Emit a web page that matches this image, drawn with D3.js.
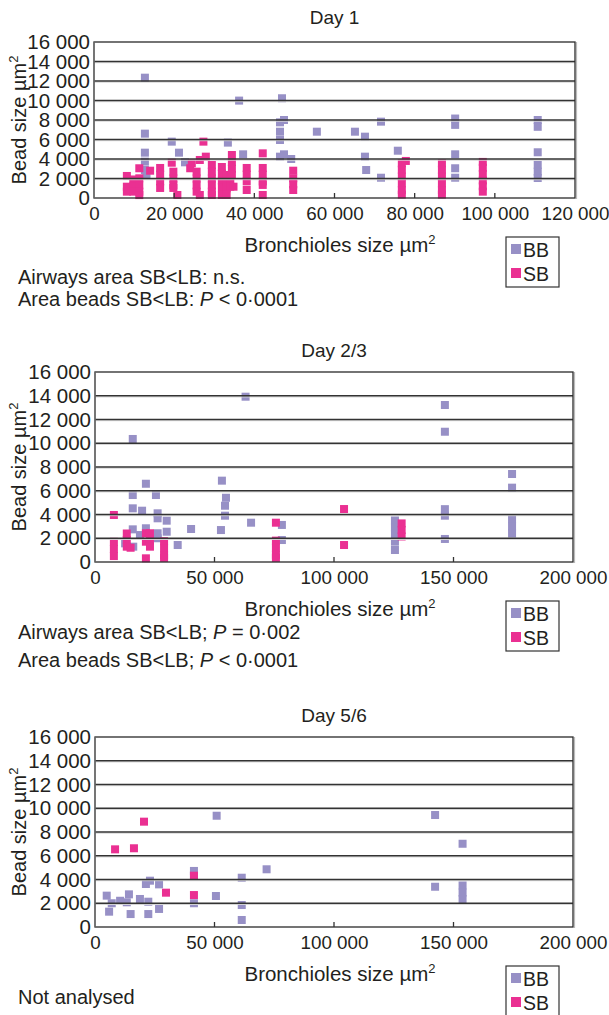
<!DOCTYPE html>
<html><head><meta charset="utf-8">
<script src="https://cdnjs.cloudflare.com/ajax/libs/d3/7.8.5/d3.min.js"></script>
<style>
body{margin:0;background:#fff;}
text{font-family:"Liberation Sans",Arial,Helvetica,sans-serif;fill:#231f20;}
</style></head><body>
<svg id="c" width="609" height="1015"></svg>
<script>
// ---------- DATA ----------
const panelTitles = ["Day 1", "Day 2/3", "Day 5/6"];
const xMaxes = [120000, 200000, 200000];
const xTicks1 = [0, 20000, 40000, 60000, 80000, 100000, 120000];
const xTicks23 = [0, 50000, 100000, 150000, 200000];
const yTicks = [0, 2000, 4000, 6000, 8000, 10000, 12000, 14000, 16000];
const seriesNames = ["BB", "SB"];

// Day 1 [bronchiole size, bead size]
const day1BB = [[12700,12340],[36200,9990],[12700,6600],[19400,5780],[12700,4650],[21200,4650],[33400,5680],[37200,4480],[12700,3730],[22700,3660],[12700,2870],[13100,2360],
[46900,10230],[47400,8000],[46400,7760],[46400,6800],[46400,5950],[55600,6800],[65100,6800],[67600,6290],[71600,7830],[46400,4240],[47400,4480],[49200,4000],[67600,4240],[67900,2870],[71600,2080],[75800,4850],
[90100,8150],[90100,7500],[90100,4480],[90100,3050],[90100,2080],[110700,8000],[110700,7300],[110700,4690],[110700,3400],[110700,2700],[110700,2050]];
const day1SB = [[8200,2260],[8200,1160],[8200,650],[9800,1900],[9800,1200],[9800,650],[11300,3050],[11300,2020],[11300,1300],[11300,650],[11300,300],
[14000,2800],[16500,3080],[16500,2400],[16500,1700],[16500,1030],[19400,3620],[19800,2700],[19800,2000],[19800,1300],[19800,1030],[20800,310],
[24000,3050],[24400,3560],[26400,3900],[26400,310],[25600,2700],[25600,2000],[25600,1300],[25600,650],[27300,5780],[27900,4240],
[29400,3390],[29400,2700],[29400,2000],[29400,1300],[29400,650],[29400,310],[31900,3180],[31900,2500],[31900,1800],[31900,1100],[31900,310],
[33100,2360],[33100,1700],[33100,1000],[33100,310],[34400,4410],[34400,3700],[34400,3000],[34400,2360],[34000,1900],[34000,1160],[34800,1160],
[38100,3080],[38100,2400],[38100,1700],[38100,820],[42100,4580],[42100,3080],[42100,2400],[42100,1700],[42100,1340],[42100,310],
[49700,2800],[49700,2020],[49700,1400],[49700,820],[76800,3560],[76800,2900],[76800,2200],[76800,1500],[76800,800],[76800,350],[77800,3800],
[86800,3560],[86800,2900],[86800,2200],[86800,1500],[86800,800],[86800,350],[97000,3700],[97000,3100],[97000,2450],[97000,1800],[97000,1200],[97000,650]];

// Day 2/3
const day23BB = [[63000,13920],[15800,10360],[21300,6590],[15800,5640],[25500,5640],[53100,6850],[54800,5410],[54400,4740],[54400,3900],[15800,4520],[19700,4320],[26200,4100],[26200,3680],[30000,3480],[15800,2750],[21300,2840],[30000,2550],[40200,2780],[52700,2690],[65300,3310],[34600,1430],[18800,2270],[26200,2420],[26200,2000],[12600,1570],[16000,1290],
[78200,3120],[78200,1850],[125500,3500],[125500,2900],[125500,2350],[125500,1710],[125500,1010],[146400,13220],[146400,10970],[146400,4450],[146400,3900],[146400,1940],[174500,7410],[174500,6260],[174500,3600],[174500,3000],[174500,2400]];
const day23SB = [[7900,3960],[7900,1700],[7900,1100],[7900,500],[13300,2400],[13300,1850],[13300,1290],[14900,1200],[21300,2420],[21300,1710],[23000,2420],[23000,1800],[23000,1290],[21300,310],[28900,1750],[28900,1150],[28900,550],[28900,350],
[75700,3310],[75700,1800],[75700,1200],[75700,600],[75700,350],[104200,4460],[104200,1430],[128300,3250],[128300,2700],[128300,2150]];

// Day 5/6
const day56BB = [[4900,2640],[7000,2000],[5900,1290],[10500,2210],[13300,2080],[14200,2750],[14900,1090],[18800,2360],[22300,2130],[22300,1090],[21300,3620],[23000,3900],[26800,3590],[26800,1520],[41400,4720],[41400,4350],[41400,2000],[50600,2610],[50900,9370],[61400,4150],[61400,1850],[61400,590],[71800,4860],[142300,9430],[142300,3390],[153800,7010],[153800,3500],[153800,2900],[153800,2350]];
const day56SB = [[8400,6540],[16300,6630],[20500,8870],[29700,2890],[41400,4320],[41400,2690]];

const notes1 = [["Airways area SB<LB: n.s."], ["Area beads SB<LB: ", "P", " < 0·0001"]];
const notes2 = [["Airways area SB<LB; ", "P", " = 0·002"], ["Area beads SB<LB; ", "P", " < 0·0001"]];
const notes3 = [["Not analysed"]];

// ---------- DRAW ----------
const colBB = "#9790c6", colSB = "#ea3092";
const svg = d3.select("#c");
const fmt = v => d3.format(",")(v).replace(/,/g, " ");

const panels = [
  {title: panelTitles[0], xmax: xMaxes[0], ticks: xTicks1, bb: day1BB, sb: day1SB, notes: notes1,
   left: 94, right: 575, top: 42, bottom: 198, titleY: 24, noteY: [283.5, 305.5]},
  {title: panelTitles[1], xmax: xMaxes[1], ticks: xTicks23, bb: day23BB, sb: day23SB, notes: notes2,
   left: 95, right: 573, top: 372, bottom: 562, titleY: 357, noteY: [638.5, 667]},
  {title: panelTitles[2], xmax: xMaxes[2], ticks: xTicks23, bb: day56BB, sb: day56SB, notes: notes3,
   left: 95, right: 573, top: 737, bottom: 927, titleY: 722, noteY: [1004]}
];

panels.forEach(p => {
  const g = svg.append("g");
  const x = d3.scaleLinear().domain([0, p.xmax]).range([p.left, p.right]);
  const y = d3.scaleLinear().domain([0, 16000]).range([p.bottom, p.top]);
  const s = 8;

  // title
  g.append("text").attr("x", (p.left + p.right) / 2).attr("y", p.titleY)
    .attr("text-anchor", "middle").attr("font-size", 19).text(p.title);

  // points
  g.selectAll(".bb").data(p.bb).join("rect")
    .attr("x", d => x(d[0]) - s / 2).attr("y", d => y(d[1]) - s / 2)
    .attr("width", s).attr("height", s).attr("fill", colBB);
  g.selectAll(".sb").data(p.sb).join("rect")
    .attr("x", d => x(d[0]) - s / 2).attr("y", d => y(d[1]) - s / 2)
    .attr("width", s).attr("height", s).attr("fill", colSB);

  // grid
  yTicks.slice(1, -1).forEach(t => {
    g.append("line").attr("x1", p.left).attr("x2", p.right).attr("y1", y(t) + 1.2).attr("y2", y(t) + 1.2)
      .attr("stroke", "#d4d4d4").attr("stroke-width", 1);
    g.append("line").attr("x1", p.left).attr("x2", p.right).attr("y1", y(t)).attr("y2", y(t))
      .attr("stroke", "#333").attr("stroke-width", 1.3);
  });
  // frame
  g.append("line").attr("x1", p.right + 1.5).attr("x2", p.right + 1.5).attr("y1", p.top).attr("y2", p.bottom + 1)
    .attr("stroke", "#bbb").attr("stroke-width", 1.2);
  g.append("rect").attr("x", p.left).attr("y", p.top).attr("width", p.right - p.left).attr("height", p.bottom - p.top)
    .attr("fill", "none").attr("stroke", "#2a2a2a").attr("stroke-width", 1.3);
  g.append("line").attr("x1", p.left).attr("x2", p.left).attr("y1", p.top).attr("y2", p.bottom)
    .attr("stroke", "#777").attr("stroke-width", 1.3);

  // y axis
  const ya = d3.axisLeft(y).tickValues(yTicks).tickFormat(fmt).tickSize(0).tickPadding(4);
  const yg = g.append("g").attr("transform", `translate(${p.left},0)`).call(ya);
  yg.select(".domain").remove();
  yg.selectAll("text").attr("font-size", 20.5).attr("fill", "#231f20")
    .attr("font-family", "Liberation Sans, Arial, sans-serif");

  // x axis
  const xa = d3.axisBottom(x).tickValues(p.ticks).tickFormat(fmt).tickSize(0).tickPadding(0);
  const xg = g.append("g").attr("transform", `translate(0,${p.bottom})`).call(xa);
  xg.select(".domain").remove();
  xg.selectAll("text").attr("font-size", 18.8).attr("fill", "#231f20").attr("dy", null).attr("y", 22)
    .attr("font-family", "Liberation Sans, Arial, sans-serif");
  p.ticks.slice(1, -1).forEach(t => {
    g.append("line").attr("x1", x(t)).attr("x2", x(t)).attr("y1", p.bottom).attr("y2", p.bottom - 5)
      .attr("stroke", "#333").attr("stroke-width", 1.3);
  });

  // axis titles
  const xt = g.append("text").attr("x", 340).attr("y", p.bottom + 54).attr("text-anchor", "middle").attr("font-size", 20.5);
  xt.append("tspan").text("Bronchioles size \u00b5m");
  xt.append("tspan").attr("dy", -8).attr("font-size", 13).text("2");

  const ymid = (p.top + p.bottom) / 2;
  const yt = g.append("text").attr("transform", `translate(26,${ymid}) rotate(-90)`).attr("text-anchor", "middle").attr("font-size", 20);
  yt.append("tspan").text("Bead size \u00b5m");
  yt.append("tspan").attr("dy", -8).attr("font-size", 13).text("2");

  // legend
  const ly = p.bottom + 39;
  g.append("rect").attr("x", 506).attr("y", ly).attr("width", 53).attr("height", 50)
    .attr("fill", "#fff").attr("stroke", "#333").attr("stroke-width", 1.2);
  [colBB, colSB].forEach((c, i) => {
    g.append("rect").attr("x", 511).attr("y", ly + 7 + i * 24).attr("width", 10).attr("height", 10).attr("fill", c);
    g.append("text").attr("x", 523).attr("y", ly + 19.5 + i * 24).attr("font-size", 19.5).text(seriesNames[i]);
  });

  // notes
  p.notes.forEach((parts, i) => {
    const t = g.append("text").attr("x", 18).attr("y", p.noteY[i]).attr("font-size", 20);
    parts.forEach(s2 => {
      const ts = t.append("tspan").text(s2);
      if (s2 === "P") ts.attr("font-style", "italic");
    });
  });
});
</script>
</body></html>
